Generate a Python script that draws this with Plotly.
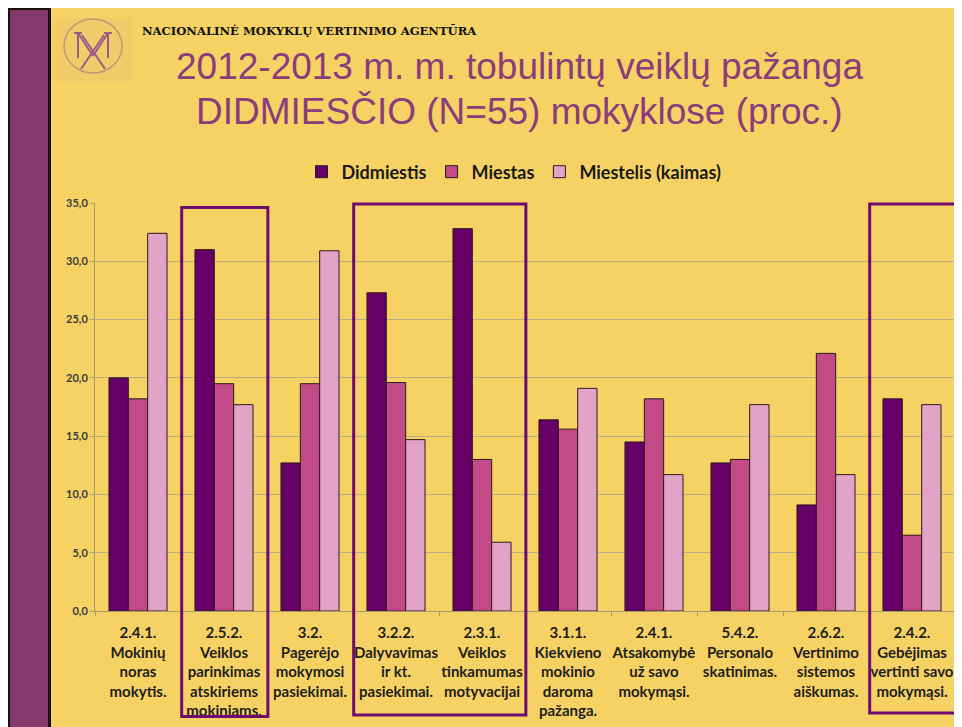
import plotly.graph_objects as go

# ---------------- data ----------------
categories = [
    "2.4.1.<br>Mokinių<br>noras<br>mokytis.",
    "2.5.2.<br>Veiklos<br>parinkimas<br>atskiriems<br>mokiniams.",
    "3.2.<br>Pagerėjo<br>mokymosi<br>pasiekimai.",
    "3.2.2.<br>Dalyvavimas<br>ir kt.<br>pasiekimai.",
    "2.3.1.<br>Veiklos<br>tinkamumas<br>motyvacijai",
    "3.1.1.<br>Kiekvieno<br>mokinio<br>daroma<br>pažanga.",
    "2.4.1.<br>Atsakomybė<br>už savo<br>mokymąsi.",
    "5.4.2.<br>Personalo<br>skatinimas.",
    "2.6.2.<br>Vertinimo<br>sistemos<br>aiškumas.",
    "2.4.2.<br>Gebėjimas<br>vertinti savo<br>mokymąsi.",
]
didmiestis = [20.0, 31.0, 12.7, 27.3, 32.8, 16.4, 14.5, 12.7, 9.1, 18.2]
miestas = [18.2, 19.5, 19.5, 19.6, 13.0, 15.6, 18.2, 13.0, 22.1, 6.5]
miestelis = [32.4, 17.7, 30.9, 14.7, 5.9, 19.1, 11.7, 17.7, 11.7, 17.7]
series_names = ["Didmiestis", "Miestas", "Miestelis (kaimas)"]
highlight_groups = [(1, 1), (3, 4), (9, 9)]  # index ranges of highlighted categories

title_line1 = "2012-2013 m. m. tobulintų veiklų pažanga"
title_line2 = "DIDMIESČIO (N=55) mokyklose (proc.)"
header = "NACIONALINĖ MOKYKLŲ VERTINIMO AGENTŪRA"

# ---------------- style ----------------
W, H = 962, 727
OFF = 8  # page body margin
L, T, PW, PH = 87, 195, 860, 408
R, B = W - L - PW, H - T - PH
BG = "#F6D264"
colors = ["#660066", "#C44A87", "#E2A3C6"]
FONT = "Lato"


def fx(px):  # screenshot x -> paper
    return (px - OFF - L) / PW


def fy(py):  # screenshot y -> paper
    return (T + PH - (py - OFF)) / PH


fig = go.Figure()
for name, vals, col in zip(series_names, [didmiestis, miestas, miestelis], colors):
    fig.add_trace(go.Bar(
        x=categories, y=vals, name=name,
        marker=dict(color=col, line=dict(color="#2b1a1a", width=1)),
    ))

shapes = [
    # side bar
    dict(type="rect", xref="paper", yref="paper", x0=fx(8), x1=fx(51), y0=fy(8), y1=fy(H + 10),
         fillcolor="#1a1010", line_width=0, layer="below"),
    dict(type="rect", xref="paper", yref="paper", x0=fx(10), x1=fx(48), y0=fy(10), y1=fy(H + 10),
         fillcolor="#86386B", line_width=0, layer="below"),
    # logo
    dict(type="rect", xref="paper", yref="paper", x0=fx(55), x1=fx(132), y0=fy(18), y1=fy(82),
         fillcolor="#F1CD6A", line_width=0, layer="below"),
    dict(type="circle", xref="paper", yref="paper", x0=fx(64), x1=fx(122), y0=fy(19), y1=fy(73),
         line=dict(color="#C8947A", width=1.5), layer="below"),
]
logo_lines = [
    ((78, 33), (78, 58)), ((108, 33), (108, 58)),
    ((78, 33), (93, 56)), ((108, 33), (93, 56)),
    ((81, 69), (104, 35)), ((105, 69), (82, 35)),
    ((74, 33), (82, 33)), ((104, 33), (112, 33)),
]
for (x0, y0), (x1, y1) in logo_lines:
    shapes.append(dict(type="line", xref="paper", yref="paper", x0=fx(x0), y0=fy(y0),
                       x1=fx(x1), y1=fy(y1), line=dict(color="#9E5A86", width=2), layer="below"))

n = len(categories)
box_tops = [207.5, 204, 204]
box_bottoms = [716.5, 715, 713]
for (a, b), t, bt in zip(highlight_groups, box_tops, box_bottoms):
    shapes.append(dict(type="rect", xref="paper", yref="paper",
                       x0=a / n + 0.0008, x1=(b + 1) / n + 0.001, y0=fy(bt), y1=fy(t),
                       line=dict(color="#6E0A70", width=3), fillcolor="rgba(0,0,0,0)"))

annotations = [
    dict(text=header, xref="paper", yref="paper", x=fx(309), y=fy(31), showarrow=False,
         xanchor="center", yanchor="middle",
         font=dict(family="DejaVu Serif", size=11.6, color="#111111", weight="bold")),
    dict(text=title_line1, xref="paper", yref="paper", x=fx(519), y=fy(66), showarrow=False,
         xanchor="center", yanchor="middle",
         font=dict(family="Liberation Sans", size=37, color="#8A3C7B")),
    dict(text=title_line2, xref="paper", yref="paper", x=fx(519), y=fy(112), showarrow=False,
         xanchor="center", yanchor="middle",
         font=dict(family="Liberation Sans", size=37, color="#8A3C7B")),
]

fig.update_layout(
    width=W, height=H,
    margin=dict(l=L, r=R, t=T, b=B, pad=0),
    paper_bgcolor=BG, plot_bgcolor="rgba(0,0,0,0)",
    barmode="group", bargap=0.325, bargroupgap=0,
    separators=",.",
    shapes=shapes, annotations=annotations,
    showlegend=True,
    legend=dict(orientation="h", x=fx(514), xanchor="center", y=fy(172), yanchor="middle",
                font=dict(family=FONT, size=18, color="#1a1a1a", weight="bold"),
                bgcolor="rgba(0,0,0,0)", itemclick=False),
    font=dict(family=FONT),
)
fig.update_yaxes(range=[0, 35], dtick=5, tickformat=".1f",
                 showgrid=True, gridcolor="#B9AD86", gridwidth=1,
                 showline=True, linecolor="#A89A70", linewidth=1,
                 ticks="outside", ticklen=4, tickcolor="#A89A70",
                 tickfont=dict(family=FONT, size=11, color="#3b3b3b", weight="bold"),
                 zeroline=False)
fig.update_xaxes(showgrid=False, showline=True, linecolor="#A89A70", linewidth=1,
                 ticks="outside", ticklen=4, tickcolor="#A89A70", tickson="boundaries",
                 tickangle=0, ticklabelstandoff=8,
                 tickfont=dict(family=FONT, size=15, color="#1e1e1e", weight="bold"))

fig.write_html("out.html")
